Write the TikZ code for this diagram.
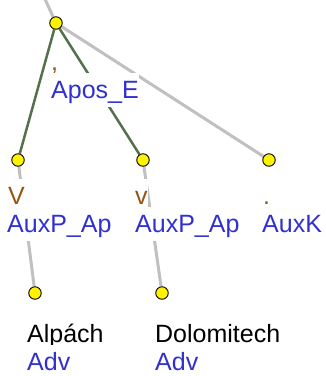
\documentclass[tikz,border=0pt]{standalone}
\usepackage{fontspec}
\setmainfont{Liberation Sans}
\usepackage{xcolor}
\usetikzlibrary{calc}
\usetikzlibrary{backgrounds}
\usetikzlibrary{positioning}

\definecolor{afunblue}{RGB}{48,48,208}
\definecolor{formorange}{RGB}{150,85,20}
\definecolor{edgegreen}{RGB}{84,112,76}
\definecolor{edgegray}{RGB}{192,192,192}

\begin{document}
\begin{tikzpicture}[x=1pt, y=-1pt, font=\fontsize{25}{29}\selectfont]
		\tikzstyle{dot}=[circle, draw=black, fill=yellow, line width=0.9pt, minimum size=12.5pt, inner sep=0pt]
		\tikzstyle{lbl}=[fill=white, anchor=base west, inner xsep=0pt, inner ysep=1pt, text height=24pt, text depth=8pt]
		\tikzstyle{form}=[lbl, text=formorange]
		\tikzstyle{word}=[lbl, text=black]
		\tikzstyle{afun}=[lbl, text=afunblue]
		\tikzstyle{coordedge}=[draw=edgegreen, line width=2.5pt]
		\tikzstyle{plainedge}=[draw=edgegray, line width=3pt]

		\useasboundingbox (0,0) rectangle (326,376);

		% tree nodes
		\node[dot] (apos) at (56,23) {};
		\node[dot] (vbig) at (18,160) {};
		\node[dot] (vsmall) at (143,160) {};
		\node[dot] (auxk) at (269,160) {};
		\node[dot] (alpach) at (35,293) {};
		\node[dot] (dolomitech) at (162,293) {};
		\coordinate (up) at (44,-3);

		% labels
		\node[form] (aposform) at (51,70) {,};
		\node[afun] (aposafun) at (51,98) {Apos\_E};
		\node[form, inner xsep=2pt] (vbigform) at (6,204) {V};
		\node[afun] (vbigafun) at (7,232) {AuxP\_Ap};
		\node[form] (vsmallform) at (135,204) {v};
		\node[afun] (vsmallafun) at (135,232) {AuxP\_Ap};
		\node[form] (auxkform) at (263,204) {.};
		\node[afun] (auxkafun) at (262,232) {AuxK};
		\node[word] (alpachform) at (27,342) {Alpách};
		\node[afun] (alpachafun) at (27,370) {Adv};
		\node[word] (dolomitechform) at (155,342) {Dolomitech};
		\node[afun] (dolomitechafun) at (155,370) {Adv};

		% edges
		\begin{pgfonlayer}{background}
		\path[plainedge] (apos) -- (up);
		\path[plainedge] (apos) -- (auxk);
		\path[coordedge] (apos) -- (vbig);
		\path[coordedge] (apos) -- (vsmall);
		\path[plainedge] (vbig) -- (alpach);
		\path[plainedge] (vsmall) -- (dolomitech);
		\end{pgfonlayer}
	\end{tikzpicture}
\end{document}
